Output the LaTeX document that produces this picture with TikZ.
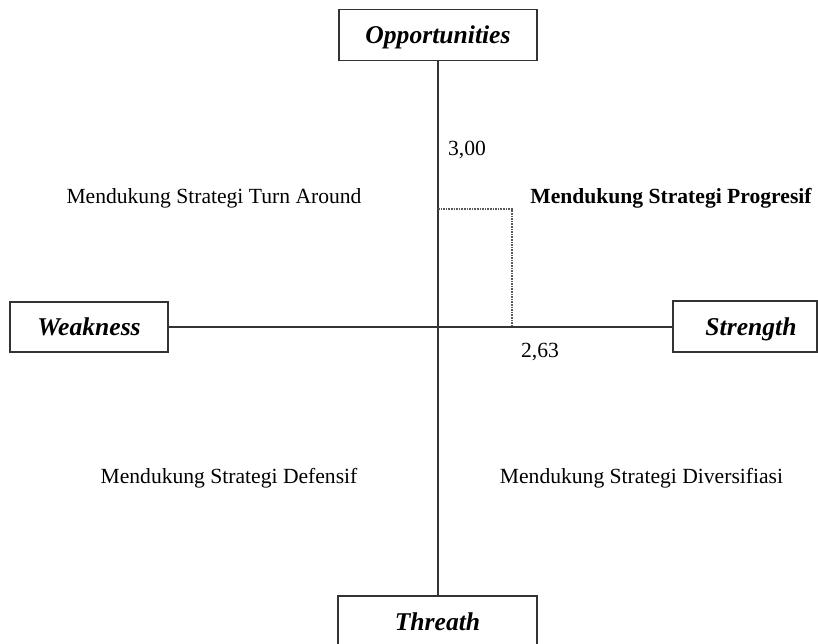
\documentclass[tikz,border=0pt]{standalone}
\usepackage{fontspec}
\setmainfont{Liberation Serif}
\begin{document}
\begin{tikzpicture}[x=0.5pt,y=-0.5pt,
  title/.style={draw=black!80, line width=0.9pt, rectangle, inner sep=0pt,
    text height=8.6pt, text depth=0pt,
    font=\fontsize{12.8}{15}\selectfont\bfseries\itshape},
  axis/.style={draw=black!80, line width=0.9pt},
  guide/.style={draw=black!65, line width=0.6pt, dash pattern=on 0.8pt off 0.5pt},
  lbl/.style={font=\fontsize{10.8}{13}\selectfont, inner sep=0pt},
  lblb/.style={font=\fontsize{10.8}{13}\selectfont\bfseries, inner sep=0pt}]
\useasboundingbox (0,0) rectangle (818,643);
\node[title, minimum width=99pt, minimum height=25.5pt] (opp) at (438,35) {Opportunities};
\node[title, minimum width=79pt, minimum height=25pt] (weak) at (89,327) {Weakness};
\node[title, minimum width=72pt, minimum height=25.5pt] (str) at (745,326.5) {\hspace{6pt}Strength};
\node[title, minimum width=99.5pt, minimum height=25.5pt] (thr) at (437.5,621.5) {Threath};
\draw[axis] (opp.south) -- (thr.north -| opp.south);
\draw[axis] (weak.east) -- (str.west |- weak.east);
\coordinate (gy) at (438,209);
\coordinate (gc) at (512,209);
\coordinate (gx) at (512,325);
\draw[guide] (gy) -- (gc) -- (gx);
\node[lbl] (v300) at (467,150) {3,00};
\node[lbl] (v263) at (540,352) {2,63};
\node[lbl] (ta) at (214,198) {Mendukung Strategi Turn Around};
\node[lblb] (pr) at (671,198) {Mendukung Strategi Progresif};
\node[lbl] (df) at (229,478) {Mendukung Strategi Defensif};
\node[lbl] (dv) at (641.5,478) {Mendukung Strategi Diversifiasi};
\end{tikzpicture}
\end{document}
